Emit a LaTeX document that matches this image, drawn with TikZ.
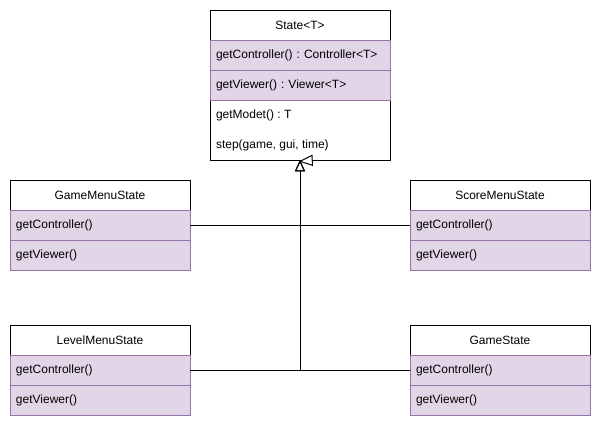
\documentclass[tikz,border=0pt]{standalone}
\usepackage{fontspec}
\setmainfont{Liberation Sans}
\usetikzlibrary{arrows.meta}
\definecolor{pfill}{HTML}{E1D5E7}
\definecolor{pline}{HTML}{9673A6}
\frenchspacing
\begin{document}
\begin{tikzpicture}[x=0.75pt,y=-0.75pt,
  every node/.style={font=\fontsize{9pt}{11pt}\selectfont, inner sep=0pt, outer sep=0pt},
  hdr/.style={draw=black, fill=white, line width=0.75pt, minimum width=135pt, minimum height=22.5pt, anchor=north west},
  row/.style={draw=pline, fill=pfill, line width=0.75pt, minimum width=135pt, minimum height=22.5pt, anchor=north west, text width=126pt, align=left, inner xsep=4.5pt},
  plain/.style={anchor=west},
  inh/.style={line width=0.75pt, -{Triangle[open, length=8.5pt, width=7.5pt]}},
  conn/.style={line width=0.75pt}]
\useasboundingbox (0,0) rectangle (601,426);

% State<T>
\node[hdr] (s) at (210,10) {State<T>};
\node[hdr, minimum height=45pt] (s3) at (210,100) {};
\node[row] (s1) at (210,40) {getController() : Controller<T>};
\node[row] (s2) at (210,70) {getViewer() : Viewer<T>};
\node[plain] (s3a) at (216,115) {getModet() : T};
\node[plain] (s3b) at (216,145) {step(game, gui, time)};

% GameMenuState
\node[hdr] (gm) at (10,180) {GameMenuState};
\node[row] (gm1) at (10,210) {getController()};
\node[row] (gm2) at (10,240) {getViewer()};

% ScoreMenuState
\node[hdr] (sm) at (410,180) {ScoreMenuState};
\node[row] (sm1) at (410,210) {getController()};
\node[row] (sm2) at (410,240) {getViewer()};

% LevelMenuState
\node[hdr] (lm) at (10,325) {LevelMenuState};
\node[row] (lm1) at (10,355) {getController()};
\node[row] (lm2) at (10,385) {getViewer()};

% GameState
\node[hdr] (gs) at (410,325) {GameState};
\node[row] (gs1) at (410,355) {getController()};
\node[row] (gs2) at (410,385) {getViewer()};

% connectors
\draw[conn] (gm1.east) -- (sm1.west);
\draw[inh] (lm1.east) -| (s3.south);
\draw[inh] (gs1.west) -| (s3.south);
% second, skewed arrow head at the junction
\draw[line width=0.75pt, fill=white] ([yshift=-1pt]s3.south) -- ++(12,-6) -- ++(0.5,10) -- cycle;
\end{tikzpicture}
\end{document}
